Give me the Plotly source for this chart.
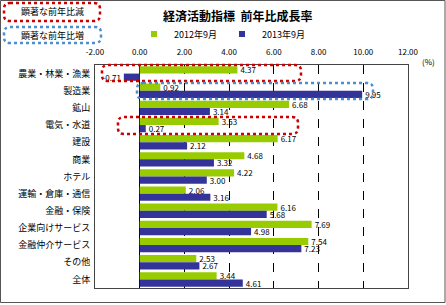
import plotly.graph_objects as go

categories = ["農業・林業・漁業", "製造業", "鉱山", "電気・水道", "建設", "商業", "ホテル",
              "運輸・倉庫・通信", "金融・保険", "企業向けサービス", "金融仲介サービス", "その他", "全体"]
sep2012 = [4.37, 0.92, 6.68, 3.53, 6.17, 4.68, 4.22, 2.06, 6.16, 7.69, 7.54, 2.53, 3.44]
sep2013 = [-0.71, 9.95, 3.14, 0.27, 2.12, 3.32, 3.00, 3.16, 5.68, 4.98, 7.23, 2.67, 4.61]
series_names = ["2012年9月", "2013年9月"]
x_ticks = [-2, 0, 2, 4, 6, 8, 10, 12]

GREEN = "#99CC00"
BLUE = "#333399"
FONT = "Noto Sans CJK JP"

W, H = 446, 305
L, R, T, B = 95, 408, 65, 288
PW, PH = R - L, B - T


def px(x):
    return (x - L) / PW


def py(y):
    return (B - y) / PH


fig = go.Figure()
for name, vals, col in [(series_names[0], sep2012, GREEN), (series_names[1], sep2013, BLUE)]:
    fig.add_trace(go.Bar(
        y=categories, x=vals, orientation="h", name=name,
        marker=dict(color=col, line=dict(width=0)),
        text=[f"{v:.2f}" for v in vals], textposition="outside",
        textfont=dict(size=8, color="black", family=FONT),
        constraintext="none", cliponaxis=False, showlegend=False,
    ))
    fig.add_trace(go.Scatter(
        x=[None], y=[None], mode="markers", name=name,
        marker=dict(symbol="square", size=6, color=col), showlegend=True,
    ))


def rounded(x0, y0, x1, y1, r=6):
    X0, X1 = px(x0), px(x1)
    Y0, Y1 = py(y0), py(y1)
    rx, ry = r / PW, r / PH
    return (f"M {X0+rx},{Y0} L {X1-rx},{Y0} Q {X1},{Y0} {X1},{Y0-ry} "
            f"L {X1},{Y1+ry} Q {X1},{Y1} {X1-rx},{Y1} L {X0+rx},{Y1} "
            f"Q {X0},{Y1} {X0},{Y1+ry} L {X0},{Y0-ry} Q {X0},{Y0} {X0+rx},{Y0} Z")


RED = "#CC0000"
DBLUE = "#4A8FD0"
boxes = [
    (4, 3, 100, 21, RED),
    (4, 27, 101, 43, DBLUE),
    (102, 65, 301, 81, RED),
    (137, 83, 373, 99, DBLUE),
    (118, 117, 298, 134, RED),
]
shapes = []
for x0, y0, x1, y1, c in boxes:
    shapes.append(dict(type="path", xref="paper", yref="paper", path=rounded(x0, y0, x1, y1),
                       line=dict(color=c, width=2.5, dash="dot"), layer="above"))
shapes.append(dict(type="rect", xref="paper", yref="paper",
                   x0=px(0.5), x1=px(445), y0=py(0.5), y1=py(302.5),
                   line=dict(color="#555555", width=1)))


def ann(text, x, y, size):
    return dict(text=text, x=px(x), y=py(y), xref="paper", yref="paper",
                xanchor="center", yanchor="middle", showarrow=False,
                font=dict(size=size, family=FONT, color="black"))


annotations = [
    ann("顕著な前年比減", 52, 12, 9),
    ann("顕著な前年比増", 52, 35, 9),
    ann("<b>経済活動指標  前年比成長率</b>", 237, 15, 12),
    ann("(%)", 428, 62, 8),
]

fig.update_layout(
    width=W, height=H,
    margin=dict(l=L, r=W - R, t=T, b=H - B),
    paper_bgcolor="white", plot_bgcolor="white",
    barmode="group", bargap=0.16, bargroupgap=0.0,
    font=dict(family=FONT, size=9, color="black"),
    showlegend=True,
    legend=dict(orientation="h", x=px(134), y=py(34), xanchor="left", yanchor="middle",
                font=dict(size=9, family=FONT), itemwidth=30, bgcolor="rgba(0,0,0,0)",
                tracegroupgap=0),
    shapes=shapes, annotations=annotations,
)
fig.update_xaxes(
    range=[-2, 12], side="top", tickvals=x_ticks,
    ticktext=[f"{v:.2f}" for v in x_ticks], tickfont=dict(size=8),
    ticklabelstandoff=6,
    showgrid=True, gridcolor="black", griddash="dash", gridwidth=1,
    zeroline=True, zerolinecolor="black", zerolinewidth=1,
    showline=True, linecolor="#444444", mirror=True, ticks="",
)
fig.update_yaxes(
    autorange="reversed", tickfont=dict(size=9), ticks="",
    showline=True, linecolor="#444444", mirror=True, showgrid=False,
    ticksuffix=" ",
)

fig.write_html("out.html")
